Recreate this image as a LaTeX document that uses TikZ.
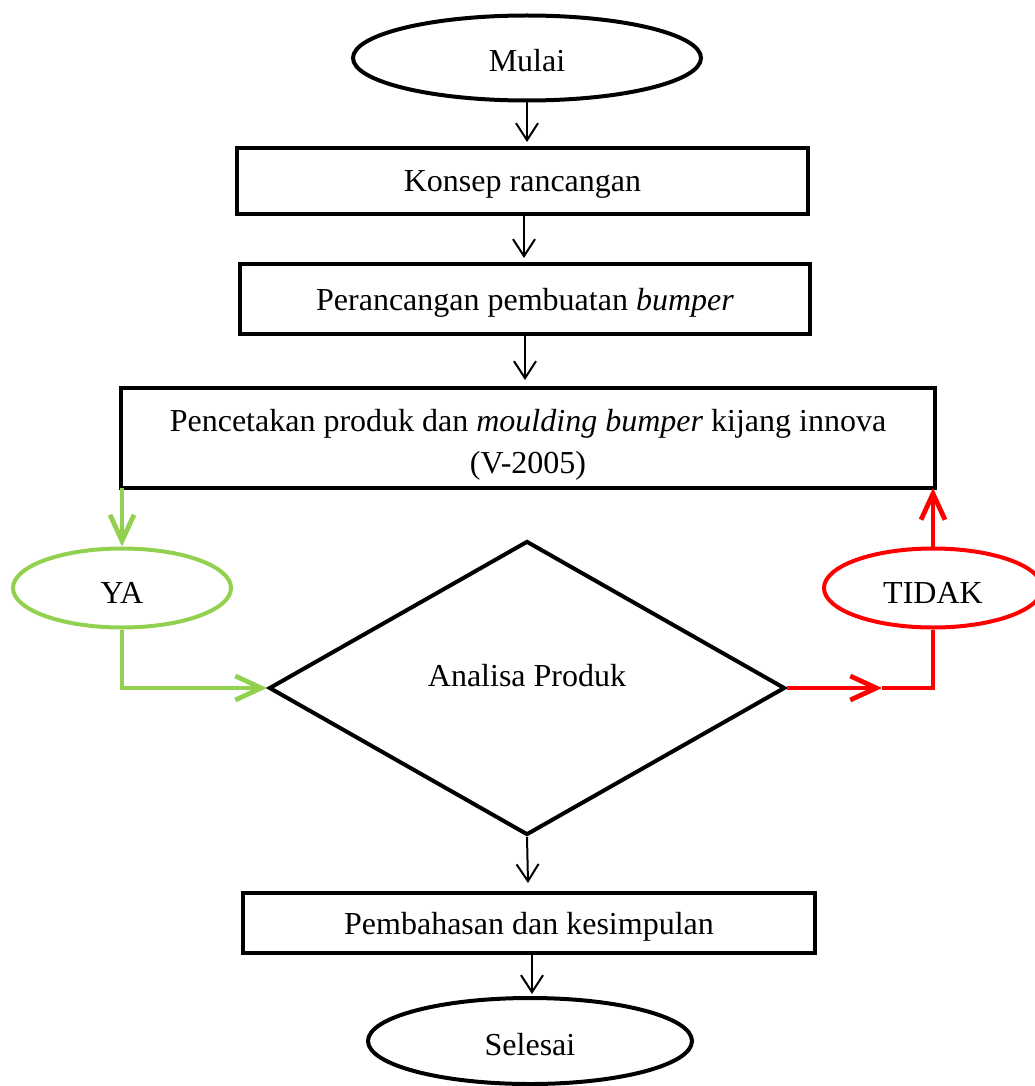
\documentclass[tikz,border=0pt]{standalone}
\usepackage{fontspec}
\setmainfont{Liberation Serif}
\usetikzlibrary{shapes.geometric,arrows.meta}
\definecolor{yagreen}{HTML}{92D050}
\definecolor{tdred}{HTML}{FF0000}
\begin{document}
\begin{tikzpicture}[x=1pt,y=-1pt,
  every node/.style={font=\fontsize{32}{39}\selectfont},
  procbox/.style={draw,line width=4pt,rectangle,inner sep=0pt,align=center,text depth=0pt},
  termell/.style={draw,line width=4pt,ellipse,inner sep=0pt},
  flow/.style={line width=2pt,-{Straight Barb[length=17pt,width=22pt,line width=2pt]}},
  yesflow/.style={yagreen,line width=4.8pt,-{Straight Barb[length=26pt,width=24pt,line width=4.8pt]}},
  noflow/.style={tdred,line width=4.8pt,-{Straight Barb[length=26pt,width=24pt,line width=4.8pt]}},
]
\useasboundingbox (0,0) rectangle (1035,1086);
\node[termell,minimum width=348pt,minimum height=85pt] (start) at (527,58) {};
\node at (527,61) {Mulai};
\node[procbox,minimum width=571pt,minimum height=66pt] (b1) at (522.5,181) {Konsep rancangan};
\node[procbox,minimum width=570pt,minimum height=70pt] (b2) at (525,299) {Perancangan pembuatan \textit{bumper}};
\node[procbox,minimum width=814pt,minimum height=100pt] (b3) at (528,438) {};
\node at (528,424) {Pencetakan produk dan \textit{moulding bumper} kijang innova};
\node at (528,466) {(V-2005)};
\node[draw,line width=4pt,diamond,inner sep=0pt,minimum width=516pt,minimum height=294pt] (d) at (527,688) {};
\node at (527,676) {Analisa Produk};
\node[termell,yagreen,minimum width=218pt,minimum height=79pt] (ya) at (122,588) {};
\node at (122,593) {YA};
\node[termell,tdred,minimum width=218pt,minimum height=79pt] (tidak) at (933,588) {};
\node at (933,593) {TIDAK};
\node[procbox,minimum width=572pt,minimum height=60pt] (b4) at (529,923) {Pembahasan dan kesimpulan};
\node[termell,minimum width=324pt,minimum height=86pt] (end) at (530,1041) {};
\node at (530,1045) {Selesai};
\coordinate (c1) at (527,142);
\coordinate (c2) at (524,258);
\coordinate (c3) at (525,380);
\coordinate (c4) at (528,883);
\coordinate (c5) at (532,994);
\coordinate (ytop) at (122,488);
\coordinate (ycorner) at (122,688);
\coordinate (rmid) at (882,688);
\coordinate (rcorner) at (933,688);
\coordinate (rtop) at (933,488);
\draw[flow] (start.south) -- (c1);
\draw[flow] (c2 |- b1.south) -- (c2);
\draw[flow] (c3 |- b2.south) -- (c3);
\draw[flow] (d.south) -- (c4);
\draw[flow] (c5 |- b4.south) -- (c5);
\draw[yesflow] (ytop) -- (ya.north);
\draw[yesflow] (ya.south) -- (ycorner) -- (d.west);
\draw[noflow] (d.east) -- (rmid);
\draw[tdred,line width=4.8pt] (rmid) -- (rcorner) -- (tidak.south);
\draw[noflow] (tidak.north) -- (rtop);
\end{tikzpicture}
\end{document}
